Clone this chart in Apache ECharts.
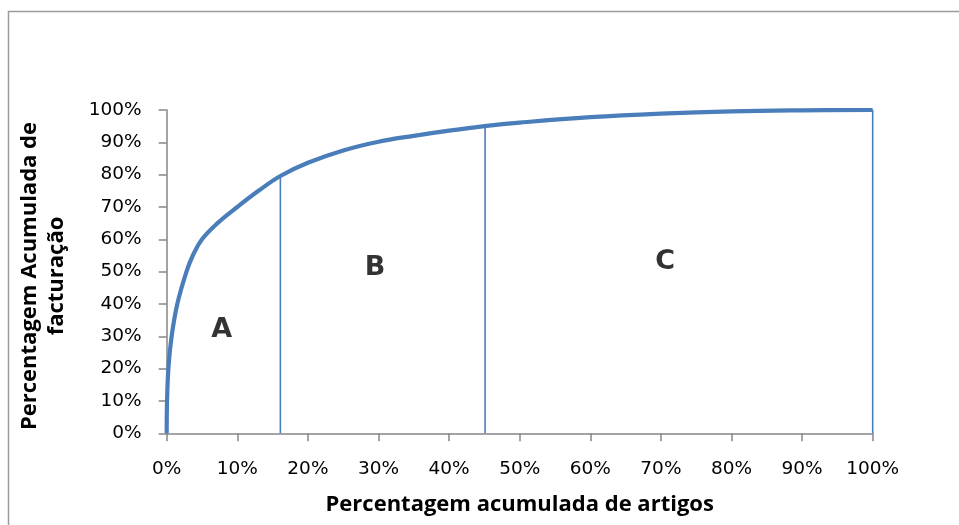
<!DOCTYPE html>
<html>
<head>
<meta charset="utf-8">
<script src="https://cdn.jsdelivr.net/npm/echarts@6/dist/echarts.min.js"></script>
<style>
  html, body { margin: 0; padding: 0; background: #fff; }
  #chart { width: 959px; height: 525px; }
</style>
</head>
<body>
<div id="chart"></div>
<script>
// Cumulative share of items (x, %) vs. cumulative share of turnover (y, %)
const curveX = [0, 0.05, 0.24, 0.7, 1.5, 2.8, 3.7, 5.0, 7.2, 10.0, 13.0, 16.1, 20, 25, 30, 35, 40, 45, 50, 60, 70, 80, 90, 100];
const curveY = [0, 10, 20, 30, 40, 50, 55, 60, 65, 70, 75, 79.6, 83.7, 87.5, 90.2, 92, 93.6, 95, 96.1, 97.8, 98.9, 99.6, 99.9, 100];

// ABC class boundaries: x position and height reached on the curve
const boundaryX = [16.1, 45.1, 100];
const boundaryY = [79.6, 95, 100];

// Class letters and where they sit inside each zone (data units)
const classNames = ['A', 'B', 'C'];
const classX = [7.8, 29.5, 70.6];
const classY = [32, 51, 53];

// Axis ticks
const axisMin = 0, axisMax = 100, axisStep = 10;

const blue = '#4a7ebb';
const axisGray = '#868686';

const curveData = curveX.map((x, i) => [x, curveY[i]]);

const boundarySeries = boundaryX.map((x, i) => ({
  type: 'line',
  data: [[x, 0], [x, boundaryY[i]]],
  symbol: 'none',
  lineStyle: { color: blue, width: 1.6 },
  z: 2,
  silent: true
}));

const chart = echarts.init(document.getElementById('chart'), null, { renderer: 'canvas' });

chart.setOption({
  backgroundColor: '#ffffff',
  animation: false,
  grid: { left: 166.7, right: 86.3, top: 110, bottom: 91.7 },
  xAxis: {
    type: 'value',
    min: axisMin, max: axisMax, interval: axisStep,
    axisLine: { show: true, lineStyle: { color: axisGray, width: 1.5 } },
    axisTick: { show: true, length: 8, lineStyle: { color: axisGray, width: 1.5 } },
    splitLine: { show: false },
    axisLabel: {
      formatter: '{value}%',
      color: '#000', fontFamily: 'DejaVu Sans', fontSize: 18.5, margin: 26
    }
  },
  yAxis: {
    type: 'value',
    min: axisMin, max: axisMax, interval: axisStep,
    axisLine: { show: true, lineStyle: { color: axisGray, width: 1.5 } },
    axisTick: { show: true, length: 8, lineStyle: { color: axisGray, width: 1.5 } },
    splitLine: { show: false },
    axisLabel: {
      formatter: '{value}%',
      color: '#000', fontFamily: 'DejaVu Sans', fontSize: 18.5, margin: 25
    }
  },
  graphic: [
    {
      type: 'rect',
      shape: { x: 8.5, y: 11.5, width: 1000, height: 600 },
      style: { fill: 'none', stroke: '#9a9a9a', lineWidth: 1.5 },
      silent: true, z: -1
    },
    {
      type: 'text',
      x: 519.7, y: 505,
      style: {
        text: 'Percentagem acumulada de artigos',
        fill: '#000', font: 'bold 22px "Open Sans"',
        textAlign: 'center', textVerticalAlign: 'middle'
      }
    },
    {
      type: 'text',
      x: 43.5, y: 276,
      rotation: Math.PI / 2,
      style: {
        text: 'Percentagem Acumulada de\nfacturação',
        fill: '#000', font: 'bold 22px "Open Sans"',
        lineHeight: 27,
        textAlign: 'center', textVerticalAlign: 'middle'
      }
    }
  ],
  series: [
    {
      type: 'line',
      data: curveData,
      symbol: 'none',
      smooth: 0.4,
      lineStyle: { color: blue, width: 4.2 },
      z: 3,
      silent: true
    },
    ...boundarySeries,
    {
      type: 'scatter',
      data: classNames.map((n, i) => ({ value: [classX[i], classY[i]], name: n })),
      symbolSize: 1,
      itemStyle: { color: 'rgba(0,0,0,0)' },
      label: {
        show: true,
        position: 'inside',
        formatter: p => p.name,
        color: '#000',
        fontFamily: 'DejaVu Sans',
        fontWeight: 900,
        fontSize: 27
      },
      z: 5,
      silent: true
    }
  ]
});
</script>
</body>
</html>
